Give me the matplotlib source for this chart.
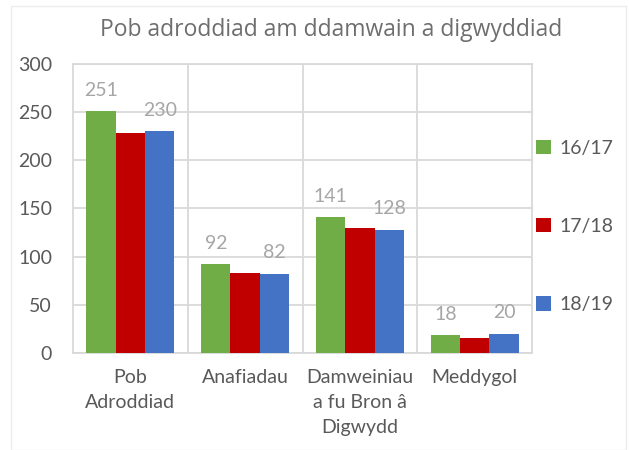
import numpy as np
import matplotlib.pyplot as plt
from matplotlib.patches import Rectangle

plt.rcParams['font.family'] = ['Lato', 'DejaVu Sans']

categories = ['Pob\nAdroddiad', 'Anafiadau', 'Damweiniau\na fu Bron â\nDigwydd', 'Meddygol']
series = ['16/17', '17/18', '18/19']
v1617 = [251, 92, 141, 18]
v1718 = [228, 83, 130, 15]
v1819 = [230, 82, 128, 20]
colors = ['#70AD47', '#C00000', '#4472C4']

grey = '#595959'
grid = '#D9D9D9'

fig = plt.figure(figsize=(6.29, 4.5), dpi=100)
ax = fig.add_axes([0.116, 0.216, 0.730, 0.642])

x = np.arange(len(categories))
w = 0.256
values = [v1617, v1718, v1819]
for i, (vals, lab, c) in enumerate(zip(values, series, colors)):
    bars = ax.bar(x + (i - 1) * w, vals, w, color=c, label=lab, zorder=3)
    # only the first and last series carry data labels
    if i != 1:
        for b, v in zip(bars, vals):
            ax.annotate(str(v), (b.get_x() + b.get_width() / 2, v),
                        xytext=(0, 9), textcoords='offset points',
                        ha='center', va='bottom', fontsize=14, color='#A6A6A6')

ax.set_xlim(-0.5, len(categories) - 0.5)
ax.set_ylim(0, 300)
ax.set_yticks(range(0, 301, 50))
ax.set_xticks(x)
ax.set_xticklabels(categories, linespacing=1.55)
ax.tick_params(axis='both', length=0, labelsize=14, colors=grey)
ax.tick_params(axis='y', pad=15)
ax.tick_params(axis='x', pad=12)

ax.yaxis.grid(True, color=grid, linewidth=1.3, zorder=0)
for b in x[:-1] + 0.5:
    ax.axvline(b, color=grid, linewidth=1.3, zorder=0)
for s in ax.spines.values():
    s.set_color(grid)
    s.set_linewidth(1.3)

fig.text(331 / 629, 1 - 30 / 450, 'Pob adroddiad am ddamwain a digwyddiad',
         family='Open Sans', fontsize=16.5, color='#6E6E6E',
         ha='center', va='center')

ax.legend(loc='center left', bbox_to_anchor=(1.0, 0.437), frameon=False,
          fontsize=14, labelcolor=grey, labelspacing=3.15,
          handlelength=0.75, handleheight=0.75, handletextpad=0.45,
          borderaxespad=0.0, borderpad=0.2)

fig.patches.append(Rectangle((11 / 629, 0), 615 / 629, 444 / 450,
                             transform=fig.transFigure, fill=False,
                             edgecolor='#EDEDED', linewidth=1))

fig.savefig('out.png', dpi=100)
